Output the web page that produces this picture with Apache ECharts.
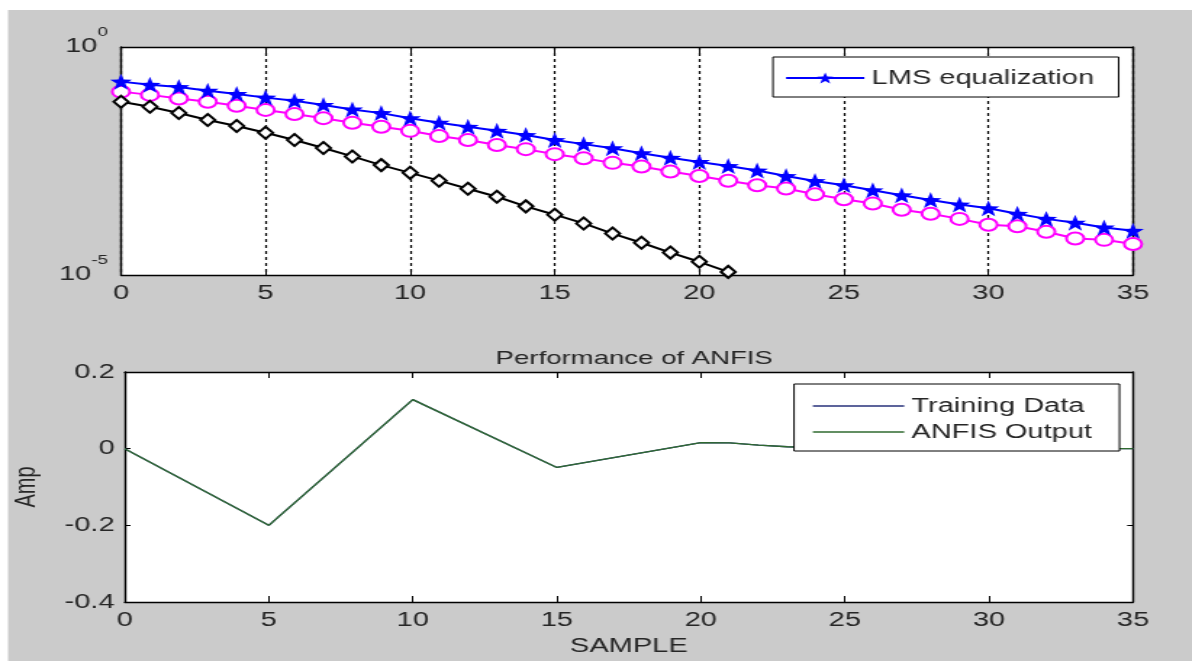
<!DOCTYPE html>
<html>
<head>
<meta charset="utf-8">
<script src="https://cdn.jsdelivr.net/npm/echarts@6/dist/echarts.min.js"></script>
<style>
  html, body { margin: 0; padding: 0; width: 100%; height: 100%; overflow: hidden; background: #fff; }
  /* the source figure is stretched sideways, so the chart is drawn narrow and widened */
  #chart { width: 822px; height: 661px; transform: scaleX(1.45); transform-origin: 0 0; }
</style>
</head>
<body>
<div id="chart"></div>
<script>
// sample index for the top plot
var samples = [0,1,2,3,4,5,6,7,8,9,10,11,12,13,14,15,16,17,18,19,20,21,22,23,24,25,26,27,28,29,30,31,32,33,34,35];

// LMS equalization (blue stars)
var lmsErr = [0.174,0.148,0.132,0.110,0.0933,0.0776,0.0661,0.0537,0.0427,0.0355,0.0275,0.0219,0.0178,0.0145,0.0117,
  0.00912,0.00741,0.00603,0.00468,0.00372,0.00302,0.00245,0.00195,0.00148,0.00115,9.3e-4,7.2e-4,5.6e-4,4.4e-4,3.5e-4,
  2.9e-4,2.2e-4,1.7e-4,1.4e-4,1.1e-4,9.3e-5];
// magenta circles
var magentaErr = [0.105,0.0891,0.0741,0.0631,0.0513,0.0417,0.0339,0.0275,0.0219,0.0178,0.0145,0.0112,0.00912,0.00708,
  0.00575,0.00447,0.00363,0.00288,0.00240,0.00186,0.00148,0.00117,9.3e-4,7.9e-4,5.9e-4,4.6e-4,3.7e-4,2.7e-4,2.2e-4,
  1.7e-4,1.26e-4,1.17e-4,8.9e-5,6.3e-5,5.9e-5,4.8e-5];
// black diamonds (ends at sample 21)
var anfisErr = [0.0631,0.0490,0.0357,0.0251,0.0185,0.0132,0.00912,0.00610,0.00398,0.00257,0.00174,0.00117,7.8e-4,
  5.2e-4,3.2e-4,2.1e-4,1.35e-4,8.1e-5,5.1e-5,3.1e-5,1.95e-5,1.17e-5];

// bottom plot
var ampX = [0,5,10,15,20,21,22,23,25,30,35];
var trainingY = [0,-0.2,0.128,-0.049,0.016,0.015,0.009,0.005,0.001,0,0];
var anfisY = [0,-0.2,0.128,-0.049,0.016,0.015,0.009,0.005,0.001,0,0];

function pairs(xs, ys) {
  var out = [];
  for (var i = 0; i < ys.length; i++) out.push([xs[i], ys[i]]);
  return out;
}

var S = 1.45; // horizontal stretch applied by css
var star = 'path://M0,-10L2.35,-3.24L9.51,-3.09L3.8,1.24L5.88,8.09L0,4L-5.88,8.09L-3.8,1.24L-9.51,-3.09L-2.35,-3.24Z';
var lineIcon = 'path://M0,0L100,0L100,2L0,2Z';
var font = 'Liberation Sans, Arial, sans-serif';
var txt = '#262626';
var fs = 20;

var boxAxisX = function (grid, pos, extra) {
  return Object.assign({
    type: 'value', gridIndex: grid, position: pos, min: 0, max: 35, interval: 5,
    axisLine: { show: true, onZero: false, lineStyle: { color: '#000', width: 1.4 } },
    axisTick: { show: true, inside: true, length: 6, lineStyle: { color: '#000', width: 1 } },
    axisLabel: { show: false },
    splitLine: { show: false }
  }, extra || {});
};

var boxAxisY = function (grid, pos, extra) {
  return Object.assign({
    gridIndex: grid, position: pos,
    axisLine: { show: true, onZero: false, lineStyle: { color: '#000', width: 1.4 } },
    axisTick: { show: false },
    axisLabel: { show: false },
    splitLine: { show: false }
  }, extra || {});
};

var option = {
  backgroundColor: '#fff',
  animation: false,
  textStyle: { fontFamily: font },
  graphic: [
    { type: 'rect', left: 8 / S, top: 10, shape: { width: 1184 / S, height: 651 }, style: { fill: '#cbcbcb' }, z: -10 }
  ],
  title: {
    text: 'Performance of ANFIS', left: 627 / S, top: 344, textAlign: 'center',
    textStyle: { fontSize: 19, fontWeight: 'normal', color: txt, fontFamily: font }
  },
  grid: [
    { left: 121 / S, top: 47, width: 1012 / S, height: 228, backgroundColor: '#fff', show: true, borderWidth: 0 },
    { left: 121 / S, top: 372, width: 1012 / S, height: 230, backgroundColor: '#fff', show: true, borderWidth: 0 }
  ],
  legend: [
    {
      data: ['LMS equalization'], left: 773 / S, top: 57, orient: 'vertical',
      backgroundColor: '#fff', borderColor: '#000', borderWidth: 1, borderRadius: 0,
      padding: [11, 17, 9, 8], itemWidth: 54, itemHeight: 14, itemGap: 4,
      textStyle: { fontSize: fs, color: txt, fontFamily: font }
    },
    {
      data: [
        { name: 'Training Data', icon: lineIcon },
        { name: 'ANFIS Output', icon: lineIcon }
      ],
      left: 794 / S, top: 384, orient: 'vertical',
      backgroundColor: '#fff', borderColor: '#000', borderWidth: 1, borderRadius: 0,
      padding: [12, 19, 9, 13], itemWidth: 63, itemHeight: 2, itemGap: 6,
      textStyle: { fontSize: fs, color: txt, fontFamily: font, lineHeight: 20 }
    }
  ],
  xAxis: [
    boxAxisX(0, 'bottom', {
      axisLabel: { show: true, fontSize: fs, color: txt, margin: 8, fontFamily: font },
      splitLine: { show: true, lineStyle: { color: '#000', type: [3, 3], width: 1.2 } }
    }),
    boxAxisX(0, 'top'),
    boxAxisX(1, 'bottom', {
      axisLabel: { show: true, fontSize: fs, color: txt, margin: 8, fontFamily: font },
      name: 'SAMPLE', nameLocation: 'middle', nameGap: 34,
      nameTextStyle: { fontSize: fs, color: txt, fontFamily: font }
    }),
    boxAxisX(1, 'top')
  ],
  yAxis: [
    boxAxisY(0, 'left', {
      type: 'log', logBase: 10, min: 1e-5, max: 1,
      axisLabel: {
        show: true, margin: 9, color: txt, padding: [0, 0, 12, 0],
        formatter: function (v) {
          if (Math.abs(v - 1) < 1e-9) return '{b|10}{s|0}';
          if (Math.abs(v - 1e-5) < 1e-12) return '{b|10}{s|-5}';
          return '';
        },
        rich: {
          b: { fontSize: fs, color: txt, fontFamily: font, verticalAlign: 'bottom', lineHeight: 20 },
          s: { fontSize: 13, color: txt, fontFamily: font, verticalAlign: 'top', lineHeight: 30 }
        }
      }
    }),
    boxAxisY(0, 'right', { type: 'log', logBase: 10, min: 1e-5, max: 1 }),
    boxAxisY(1, 'left', {
      type: 'value', min: -0.4, max: 0.2, interval: 0.2,
      axisTick: { show: true, inside: true, length: 4, lineStyle: { color: '#000', width: 1 } },
      axisLabel: { show: true, fontSize: fs, color: txt, margin: 7, fontFamily: font },
      name: 'Amp', nameLocation: 'middle', nameGap: 58,
      nameTextStyle: { fontSize: fs, color: txt, fontFamily: font }
    }),
    boxAxisY(1, 'right', {
      type: 'value', min: -0.4, max: 0.2, interval: 0.2,
      axisTick: { show: true, inside: true, length: 4, lineStyle: { color: '#000', width: 1 } }
    })
  ],
  series: [
    {
      name: 'magenta', type: 'line', xAxisIndex: 0, yAxisIndex: 0,
      data: pairs(samples, magentaErr),
      symbol: 'emptyCircle', symbolSize: 12,
      lineStyle: { color: '#ff00ff', width: 2 },
      itemStyle: { color: '#ff00ff', borderColor: '#ff00ff', borderWidth: 2 }
    },
    {
      name: 'black', type: 'line', xAxisIndex: 0, yAxisIndex: 0,
      data: pairs(samples, anfisErr),
      symbol: 'diamond', symbolSize: [10, 12],
      lineStyle: { color: '#000', width: 2 },
      itemStyle: { color: '#fff', borderColor: '#000', borderWidth: 2 }
    },
    {
      name: 'LMS equalization', type: 'line', xAxisIndex: 0, yAxisIndex: 0,
      data: pairs(samples, lmsErr),
      symbol: star, symbolSize: [15, 16],
      lineStyle: { color: '#0000ff', width: 2 },
      itemStyle: { color: '#0000ff', borderColor: '#0000ff', borderWidth: 0 }
    },
    {
      name: 'Training Data', type: 'line', xAxisIndex: 2, yAxisIndex: 2,
      data: pairs(ampX, trainingY), symbol: 'none',
      lineStyle: { color: '#27307a', width: 1.3 }, itemStyle: { color: '#27307a' }
    },
    {
      name: 'ANFIS Output', type: 'line', xAxisIndex: 2, yAxisIndex: 2,
      data: pairs(ampX, anfisY), symbol: 'none',
      lineStyle: { color: '#2f6a2f', width: 1.3 }, itemStyle: { color: '#2f6a2f' }
    }
  ]
};

var chart = echarts.init(document.getElementById('chart'), null, { renderer: 'canvas' });
chart.setOption(option);
</script>
</body>
</html>
